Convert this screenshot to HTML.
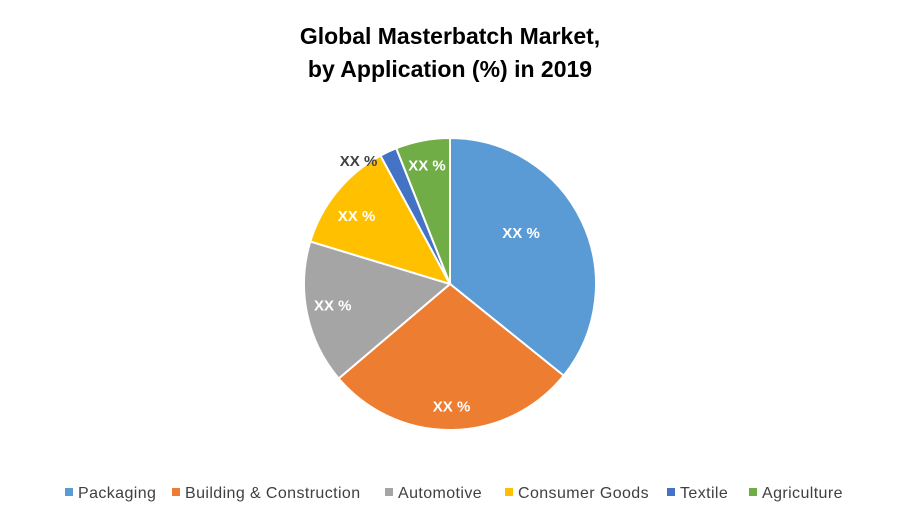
<!DOCTYPE html>
<html><head><meta charset="utf-8"><style>
body{margin:0;background:#fff;width:900px;height:525px;overflow:hidden;font-family:"Liberation Sans",sans-serif}
.title{position:absolute;left:0;width:900px;top:20px;text-align:center;font-weight:bold;font-size:23px;line-height:33px;color:#000}
.leg{position:absolute;top:485px;font-size:16px;letter-spacing:0.4px;color:#404040;white-space:nowrap}
.leg span{display:inline-block;width:8px;height:8px;margin-right:5px;vertical-align:2px}
</style></head><body>
<div class="title">Global Masterbatch Market,<br>by Application (%) in 2019</div>
<svg id="pie" width="900" height="525" style="position:absolute;left:0;top:0"></svg>
<div id="legend"></div>
<script>
const categories=["Packaging","Building & Construction","Automotive","Consumer Goods","Textile","Agriculture"];
const values=[35.8,28.0,15.9,12.4,1.9,6.0];
const labels=["XX %","XX %","XX %","XX %","XX %","XX %"];
const colors=["#5B9BD5","#ED7D31","#A5A5A5","#FFC000","#4472C4","#70AD47"];
const labelRadius=[0.6,0.84,0.82,0.8,1.06,0.84];
const labelDx=[-8,0,0,-3,-26,0];
const labelDy=[-13,0,-3,6,17,2];
const legendX=[65,172,385,505,667,749];
const cx=450,cy=284,r=146;
const svg=document.getElementById('pie');
const NS="http://www.w3.org/2000/svg";
const total=values.reduce((a,b)=>a+b,0);
function pt(a,rr){return [cx+rr*Math.sin(a),cy-rr*Math.cos(a)];}
let a0=0;
values.forEach((v,i)=>{
  const a1=a0+v/total*2*Math.PI;
  const p0=pt(a0,r),p1=pt(a1,r);
  const large=(a1-a0)>Math.PI?1:0;
  const path=document.createElementNS(NS,'path');
  path.setAttribute('d',`M${cx},${cy} L${p0[0]},${p0[1]} A${r},${r} 0 ${large} 1 ${p1[0]},${p1[1]} Z`);
  path.setAttribute('fill',colors[i]);path.setAttribute('stroke','#fff');path.setAttribute('stroke-width','2');
  
  
  svg.appendChild(path);
  const mid=(a0+a1)/2;
  const small=v/total<0.03;
  const lp=pt(mid,r*labelRadius[i]);
  const t=document.createElementNS(NS,'text');
  t.setAttribute('x',lp[0]+labelDx[i]);t.setAttribute('y',lp[1]+5+labelDy[i]);
  t.setAttribute('text-anchor','middle');t.setAttribute('font-weight','bold');t.setAttribute('font-size','15');
  t.setAttribute('font-family','Liberation Sans, sans-serif');
  t.setAttribute('fill',small?'#404040':'#fff');
  t.textContent=labels[i];
  
  
  svg.appendChild(t);
  a0=a1;
});
const lg=document.getElementById('legend');
categories.forEach((c,i)=>{
  const d=document.createElement('div');
  d.className='leg';d.style.left=legendX[i]+'px';
  d.innerHTML='<span style="background:'+colors[i]+'"></span>'+c.replace('&','&amp;');
  
  
  lg.appendChild(d);
});
</script>
</body></html>
